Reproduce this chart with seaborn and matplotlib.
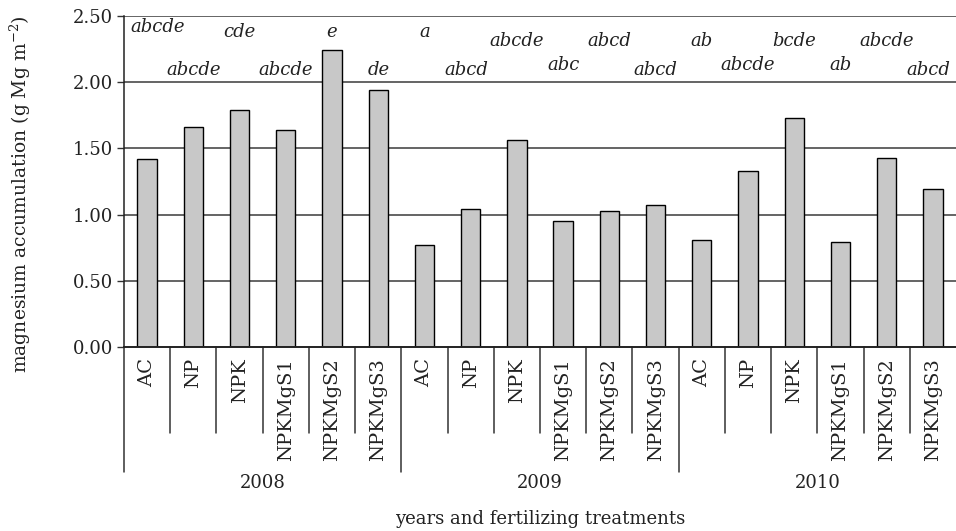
import matplotlib
matplotlib.use("Agg")
import matplotlib.pyplot as plt
import seaborn as sns
import pandas as pd

# Treatments and years
treatments = ["AC", "NP", "NPK", "NPKMgS1", "NPKMgS2", "NPKMgS3"]
years = ["2008", "2009", "2010"]

# Magnesium accumulation (g Mg m-2) per year and treatment
mg_2008 = [1.42, 1.66, 1.79, 1.64, 2.24, 1.94]
mg_2009 = [0.77, 1.04, 1.565, 0.955, 1.03, 1.07]
mg_2010 = [0.81, 1.33, 1.73, 0.79, 1.43, 1.19]

# Homogeneous group letters
groups_2008 = ["abcde", "abcde", "cde", "abcde", "e", "de"]
groups_2009 = ["a", "abcd", "abcde", "abc", "abcd", "abcd"]
groups_2010 = ["ab", "abcde", "bcde", "ab", "abcde", "abcd"]

values = mg_2008 + mg_2009 + mg_2010
letters = groups_2008 + groups_2009 + groups_2010
df = pd.DataFrame({
    "year": [y for y in years for _ in treatments],
    "treatment": treatments * len(years),
    "mg": values,
})
df["key"] = df["year"] + " " + df["treatment"]
order = list(df["key"])

sns.set_theme(style="white")
plt.rcParams["font.family"] = ["DejaVu Serif"]
plt.rcParams["mathtext.fontset"] = "dejavuserif"

fig = plt.figure(figsize=(9.56, 5.31), dpi=100)
ax = fig.add_axes([124 / 956, 1 - 347 / 531, 1 - 124 / 956, (347 - 16) / 531])

ax.set_axisbelow(True)
for g in [0.5, 1.0, 1.5, 2.0, 2.5]:
    ax.axhline(g, color="#3a3a3a", lw=1.1, zorder=0)

sns.barplot(data=df, x="key", y="mg", order=order, color="#c8c8c8",
            edgecolor="black", linewidth=1.0, width=0.42, saturation=1,
            errorbar=None, ax=ax, zorder=2)

ax.set_ylim(0, 2.5)
ax.set_xlim(-0.5, len(order) - 0.5)
ax.set_yticks([0, 0.5, 1.0, 1.5, 2.0, 2.5])
ax.set_yticklabels([f"{v:.2f}" for v in [0, 0.5, 1.0, 1.5, 2.0, 2.5]])
ax.tick_params(axis="y", left=True, length=5, width=1, color="#333333",
               labelsize=13, pad=3, labelcolor="#222222")
ax.set_xticks(range(len(order)))
ax.set_xticklabels(list(df["treatment"]), rotation=90)
ax.tick_params(axis="x", bottom=False, length=0, labelsize=14, pad=8,
               labelcolor="#222222")
ax.set_xlabel("")
ax.set_ylabel("")

for s in ["top", "right"]:
    ax.spines[s].set_visible(False)
ax.spines["left"].set_color("#222222")
ax.spines["bottom"].set_color("#222222")
ax.spines["left"].set_linewidth(1.1)
ax.spines["bottom"].set_linewidth(1.4)

# Separators under the axis: short between treatments, long between years
trans = ax.get_xaxis_transform()
for i in range(len(order)):
    xb = i - 0.5
    long = (i % len(treatments) == 0)
    y_end = -125 / 331 if long else -86 / 331
    ax.plot([xb, xb], [0, y_end], transform=trans, color="#333333",
            lw=1.1, clip_on=False)

for j, yr in enumerate(years):
    xc = j * len(treatments) + (len(treatments) - 1) / 2
    ax.text(xc, -136 / 331, yr, transform=trans, ha="center", va="center",
            fontsize=13, color="#222222")

# Group letters above the bars, alternating rows
for i, lab in enumerate(letters):
    if i % 2 == 0:
        if i == 0:
            yv = 2.42
        elif i in (2, 4, 6):
            yv = 2.38
        else:
            yv = 2.31
    else:
        yv = 2.13 if i in (9, 13, 15) else 2.09
    if i == 0:
        ax.text(-0.37, yv, lab, ha="left", va="center", fontsize=13,
                style="italic", color="#222222", zorder=3)
    else:
        ax.text(i - 0.1 if i in (7, 17) else i, yv, lab, ha="center",
                va="center", fontsize=13, style="italic", color="#222222",
                zorder=3)

fig.text(20 / 956, 1 - 194 / 531,
         r"magnesium accumulation (g Mg m$^{\mathregular{-2}}$)",
         rotation=90, ha="center", va="center", fontsize=13.5, color="#222222")
fig.text(540 / 956, 1 - 519 / 531, "years and fertilizing treatments",
         ha="center", va="center", fontsize=13, color="#222222")

fig.savefig("out.png", dpi=100)
